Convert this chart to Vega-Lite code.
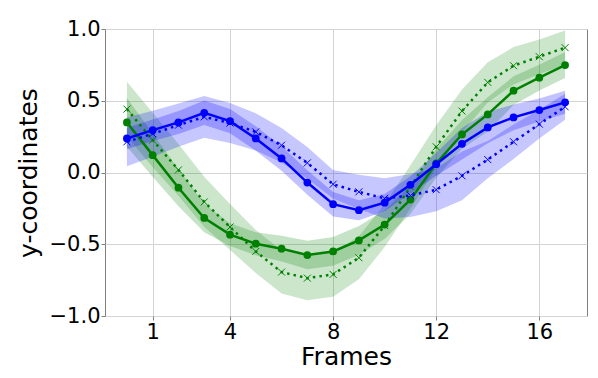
{
  "$schema": "https://vega.github.io/schema/vega-lite/v6.json",
  "width": 482,
  "height": 287,
  "autosize": {"type": "none"},
  "padding": {"left": 105, "top": 29, "right": 11, "bottom": 62},
  "background": "white",
  "config": {
    "font": "DejaVu Sans",
    "view": {"stroke": "#808080", "strokeWidth": 1},
    "axis": {
      "grid": true,
      "gridColor": "#d4d4d4",
      "gridWidth": 1,
      "domain": false,
      "tickColor": "#808080",
      "tickSize": 4,
      "labelFontSize": 21,
      "labelColor": "black",
      "labelFont": "DejaVu Sans",
      "titleFont": "DejaVu Sans",
      "titleFontSize": 25,
      "titleFontWeight": "normal",
      "titleColor": "black"
    }
  },
  "data": {"values": [
    {"x":0,"s":"bs","y":0.237,"lo":0.162,"hi":0.312},
    {"x":1,"s":"bs","y":0.295,"lo":0.22,"hi":0.37},
    {"x":2,"s":"bs","y":0.349,"lo":0.269,"hi":0.429},
    {"x":3,"s":"bs","y":0.416,"lo":0.331,"hi":0.501},
    {"x":4,"s":"bs","y":0.358,"lo":0.273,"hi":0.443},
    {"x":5,"s":"bs","y":0.237,"lo":0.152,"hi":0.322},
    {"x":6,"s":"bs","y":0.098,"lo":0.013,"hi":0.183},
    {"x":7,"s":"bs","y":-0.07,"lo":-0.155,"hi":0.015},
    {"x":8,"s":"bs","y":-0.221,"lo":-0.306,"hi":-0.136},
    {"x":9,"s":"bs","y":-0.263,"lo":-0.333,"hi":-0.193},
    {"x":10,"s":"bs","y":-0.21,"lo":-0.27,"hi":-0.15},
    {"x":11,"s":"bs","y":-0.086,"lo":-0.146,"hi":-0.026},
    {"x":12,"s":"bs","y":0.058,"lo":-0.022,"hi":0.138},
    {"x":13,"s":"bs","y":0.2,"lo":0.09,"hi":0.31},
    {"x":14,"s":"bs","y":0.314,"lo":0.204,"hi":0.424},
    {"x":15,"s":"bs","y":0.384,"lo":0.294,"hi":0.474},
    {"x":16,"s":"bs","y":0.435,"lo":0.355,"hi":0.515},
    {"x":17,"s":"bs","y":0.489,"lo":0.409,"hi":0.569},
    {"x":0,"s":"bd","y":0.214,"lo":0.044,"hi":0.384},
    {"x":1,"s":"bd","y":0.27,"lo":0.11,"hi":0.43},
    {"x":2,"s":"bd","y":0.33,"lo":0.18,"hi":0.48},
    {"x":3,"s":"bd","y":0.388,"lo":0.243,"hi":0.533},
    {"x":4,"s":"bd","y":0.345,"lo":0.205,"hi":0.485},
    {"x":5,"s":"bd","y":0.283,"lo":0.153,"hi":0.413},
    {"x":6,"s":"bd","y":0.19,"lo":0.07,"hi":0.31},
    {"x":7,"s":"bd","y":0.067,"lo":-0.043,"hi":0.177},
    {"x":8,"s":"bd","y":-0.082,"lo":-0.182,"hi":0.018},
    {"x":9,"s":"bd","y":-0.135,"lo":-0.255,"hi":-0.015},
    {"x":10,"s":"bd","y":-0.18,"lo":-0.32,"hi":-0.04},
    {"x":11,"s":"bd","y":-0.16,"lo":-0.31,"hi":-0.01},
    {"x":12,"s":"bd","y":-0.12,"lo":-0.27,"hi":0.03},
    {"x":13,"s":"bd","y":-0.023,"lo":-0.193,"hi":0.147},
    {"x":14,"s":"bd","y":0.09,"lo":-0.04,"hi":0.22},
    {"x":15,"s":"bd","y":0.214,"lo":0.094,"hi":0.334},
    {"x":16,"s":"bd","y":0.337,"lo":0.237,"hi":0.437},
    {"x":17,"s":"bd","y":0.458,"lo":0.368,"hi":0.548},
    {"x":0,"s":"gs","y":0.349,"lo":0.179,"hi":0.519},
    {"x":1,"s":"gs","y":0.121,"lo":-0.029,"hi":0.271},
    {"x":2,"s":"gs","y":-0.106,"lo":-0.236,"hi":0.024},
    {"x":3,"s":"gs","y":-0.317,"lo":-0.417,"hi":-0.217},
    {"x":4,"s":"gs","y":-0.433,"lo":-0.513,"hi":-0.353},
    {"x":5,"s":"gs","y":-0.496,"lo":-0.576,"hi":-0.416},
    {"x":6,"s":"gs","y":-0.531,"lo":-0.621,"hi":-0.441},
    {"x":7,"s":"gs","y":-0.575,"lo":-0.675,"hi":-0.475},
    {"x":8,"s":"gs","y":-0.55,"lo":-0.65,"hi":-0.45},
    {"x":9,"s":"gs","y":-0.473,"lo":-0.573,"hi":-0.373},
    {"x":10,"s":"gs","y":-0.363,"lo":-0.463,"hi":-0.263},
    {"x":11,"s":"gs","y":-0.189,"lo":-0.289,"hi":-0.089},
    {"x":12,"s":"gs","y":0.063,"lo":-0.037,"hi":0.163},
    {"x":13,"s":"gs","y":0.265,"lo":0.165,"hi":0.365},
    {"x":14,"s":"gs","y":0.405,"lo":0.285,"hi":0.525},
    {"x":15,"s":"gs","y":0.57,"lo":0.47,"hi":0.67},
    {"x":16,"s":"gs","y":0.661,"lo":0.571,"hi":0.751},
    {"x":17,"s":"gs","y":0.749,"lo":0.659,"hi":0.839},
    {"x":0,"s":"gd","y":0.442,"lo":0.252,"hi":0.632},
    {"x":1,"s":"gd","y":0.226,"lo":0.036,"hi":0.416},
    {"x":2,"s":"gd","y":0.018,"lo":-0.162,"hi":0.198},
    {"x":3,"s":"gd","y":-0.205,"lo":-0.38,"hi":-0.03},
    {"x":4,"s":"gd","y":-0.38,"lo":-0.54,"hi":-0.22},
    {"x":5,"s":"gd","y":-0.55,"lo":-0.7,"hi":-0.4},
    {"x":6,"s":"gd","y":-0.694,"lo":-0.844,"hi":-0.544},
    {"x":7,"s":"gd","y":-0.736,"lo":-0.891,"hi":-0.581},
    {"x":8,"s":"gd","y":-0.71,"lo":-0.865,"hi":-0.555},
    {"x":9,"s":"gd","y":-0.594,"lo":-0.744,"hi":-0.444},
    {"x":10,"s":"gd","y":-0.37,"lo":-0.52,"hi":-0.22},
    {"x":11,"s":"gd","y":-0.1,"lo":-0.25,"hi":0.05},
    {"x":12,"s":"gd","y":0.179,"lo":0.029,"hi":0.329},
    {"x":13,"s":"gd","y":0.428,"lo":0.278,"hi":0.578},
    {"x":14,"s":"gd","y":0.628,"lo":0.488,"hi":0.768},
    {"x":15,"s":"gd","y":0.744,"lo":0.614,"hi":0.874},
    {"x":16,"s":"gd","y":0.807,"lo":0.687,"hi":0.927},
    {"x":17,"s":"gd","y":0.87,"lo":0.75,"hi":0.99}
  ]},
  "encoding": {
    "x": {"field": "x", "type": "quantitative",
      "scale": {"domain": [-0.85, 17.85], "nice": false, "zero": false},
      "axis": {"values": [1, 4, 8, 12, 16], "title": "Frames", "labelPadding": 1, "titlePadding": 2}},
    "y": {"field": "y", "type": "quantitative",
      "scale": {"domain": [-1, 1], "nice": false},
      "axis": {"values": [-1, -0.5, 0, 0.5, 1], "format": ".1f", "title": "y-coordinates", "labelPadding": 1, "titlePadding": 8}}
  },
  "layer": [
    {"transform": [{"filter": "datum.s === 'gd'"}], "mark": {"type": "area", "color": "green", "opacity": 0.2},
     "encoding": {"y": {"field": "lo", "type": "quantitative"}, "y2": {"field": "hi"}}},
    {"transform": [{"filter": "datum.s === 'gs'"}], "mark": {"type": "area", "color": "green", "opacity": 0.22},
     "encoding": {"y": {"field": "lo", "type": "quantitative"}, "y2": {"field": "hi"}}},
    {"transform": [{"filter": "datum.s === 'bd'"}], "mark": {"type": "area", "color": "blue", "opacity": 0.22},
     "encoding": {"y": {"field": "lo", "type": "quantitative"}, "y2": {"field": "hi"}}},
    {"transform": [{"filter": "datum.s === 'bs'"}], "mark": {"type": "area", "color": "blue", "opacity": 0.24},
     "encoding": {"y": {"field": "lo", "type": "quantitative"}, "y2": {"field": "hi"}}},
    {"transform": [{"filter": "datum.s === 'gd'"}], "mark": {"type": "line", "color": "green", "strokeWidth": 2.5, "strokeDash": [2.5, 4.1]}},
    {"transform": [{"filter": "datum.s === 'gd'"}], "mark": {"type": "point", "shape": "M-1,-1L1,1M-1,1L1,-1", "filled": false, "color": "green", "size": 49, "strokeWidth": 1, "opacity": 1}},
    {"transform": [{"filter": "datum.s === 'gs'"}], "mark": {"type": "line", "color": "green", "strokeWidth": 2.5}},
    {"transform": [{"filter": "datum.s === 'gs'"}], "mark": {"type": "point", "shape": "circle", "filled": true, "color": "green", "size": 60, "opacity": 1}},
    {"transform": [{"filter": "datum.s === 'bd'"}], "mark": {"type": "line", "color": "blue", "strokeWidth": 2.5, "strokeDash": [2.5, 4.1]}},
    {"transform": [{"filter": "datum.s === 'bd'"}], "mark": {"type": "point", "shape": "M-1,-1L1,1M-1,1L1,-1", "filled": false, "color": "blue", "size": 49, "strokeWidth": 1, "opacity": 1}},
    {"transform": [{"filter": "datum.s === 'bs'"}], "mark": {"type": "line", "color": "blue", "strokeWidth": 2.5}},
    {"transform": [{"filter": "datum.s === 'bs'"}], "mark": {"type": "point", "shape": "circle", "filled": true, "color": "blue", "size": 60, "opacity": 1}}
  ]
}
